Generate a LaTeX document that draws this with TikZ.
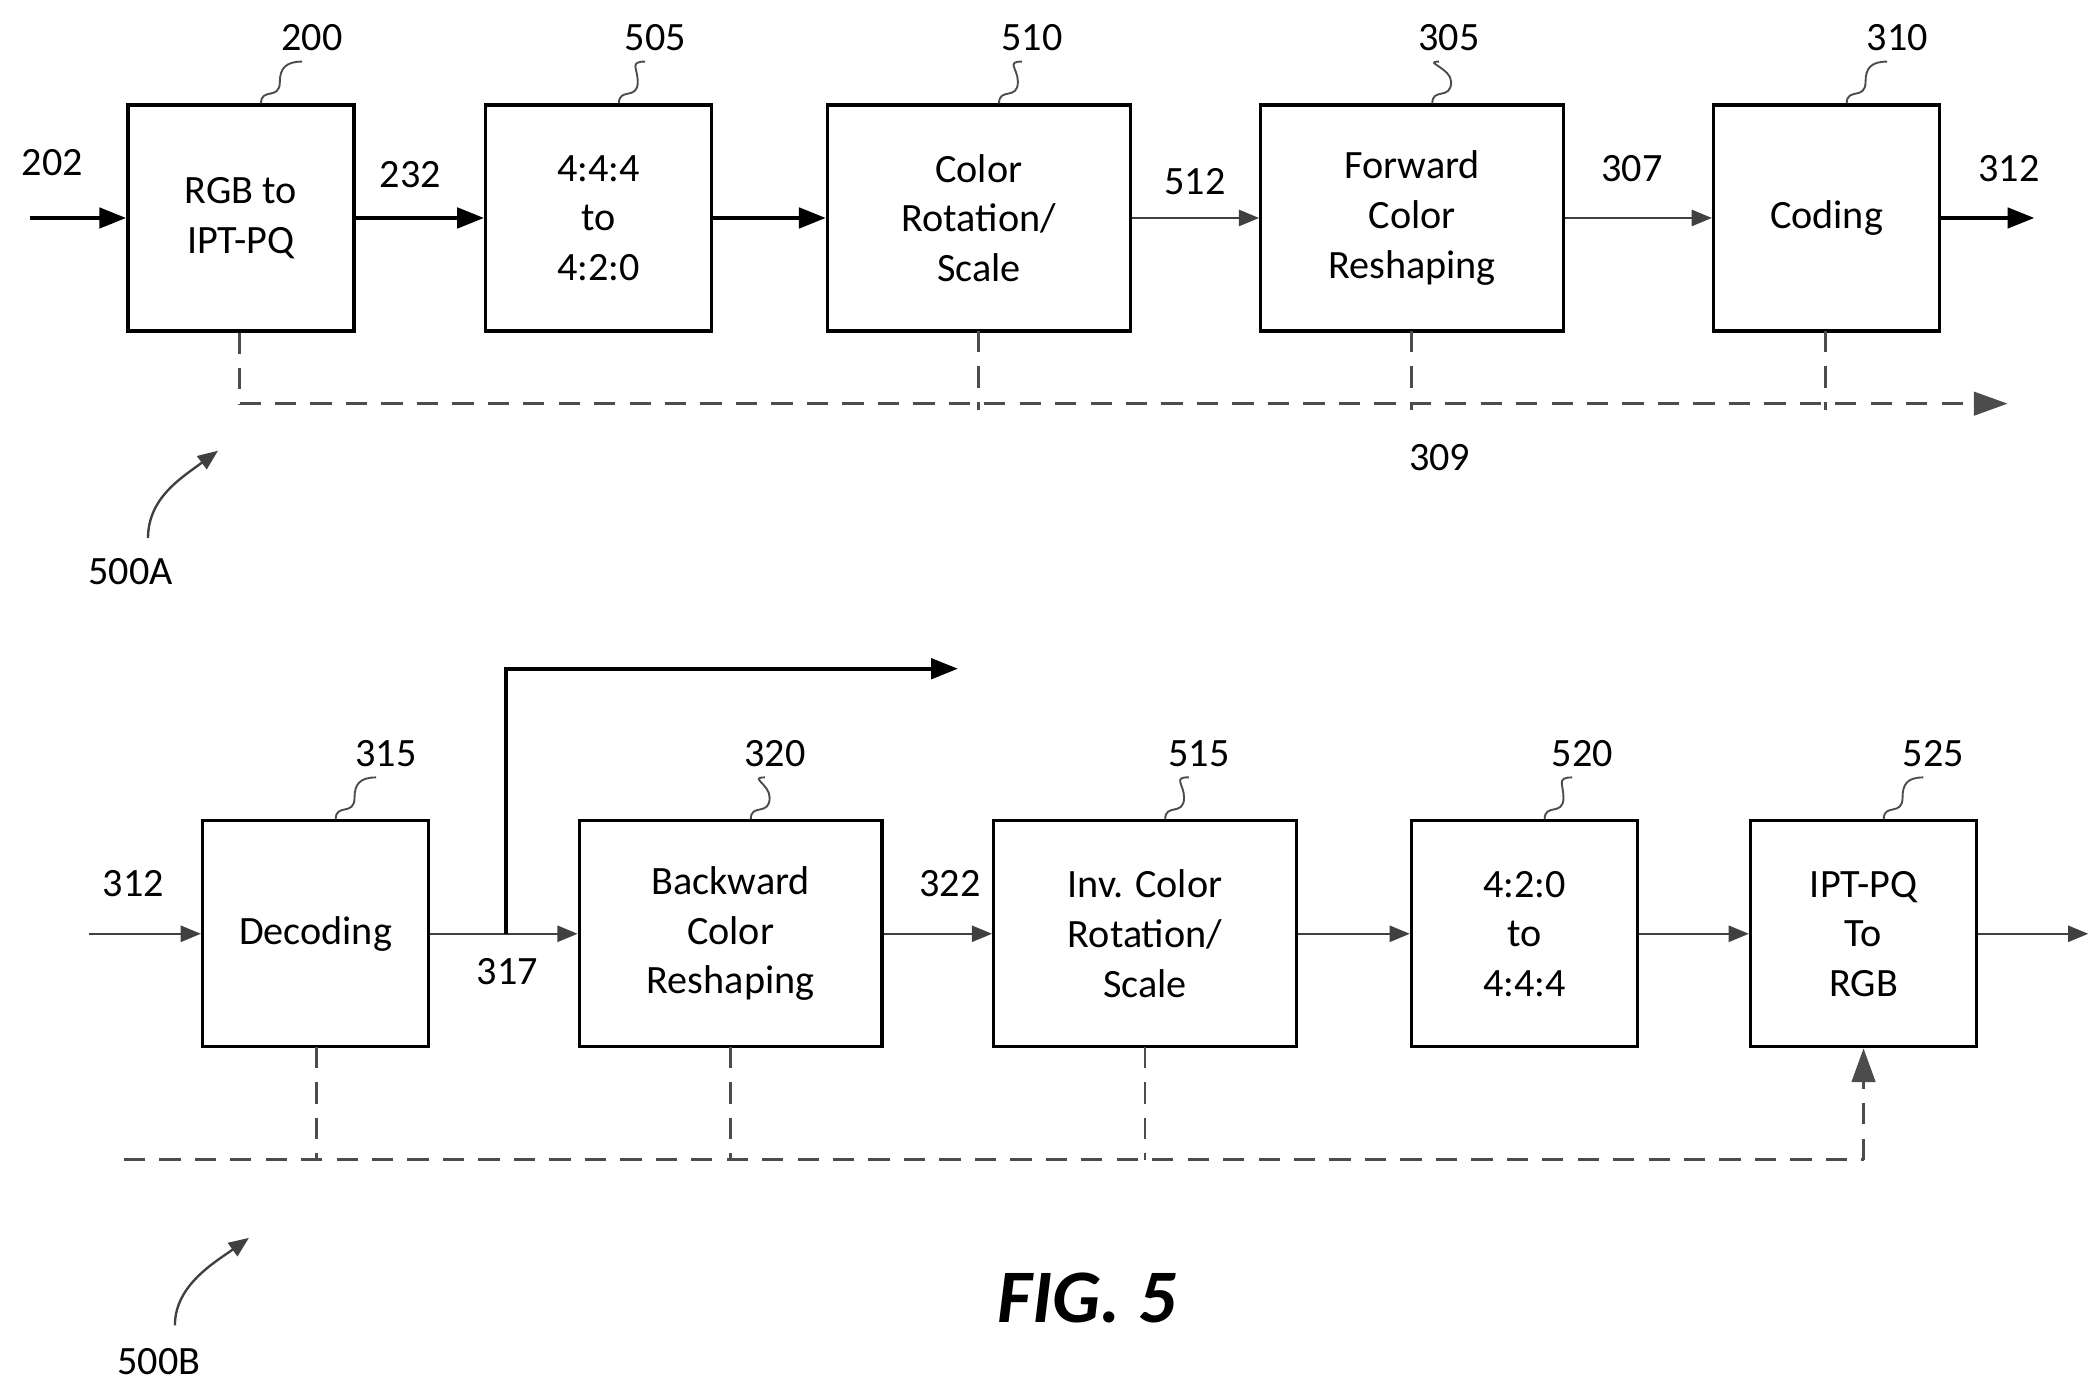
\documentclass[tikz,border=0pt]{standalone}
\usepackage{fontspec}
\setmainfont{Carlito}
\usetikzlibrary{arrows.meta,positioning}
\begin{document}
\begin{tikzpicture}
[x=0.02cm, y=-0.02cm, font=\fontsize{17}{21}\selectfont, line width=1.4pt,
blk/.style={rectangle, draw, align=center, inner sep=0pt, minimum width=3.36cm, minimum height=3.36cm},
wblk/.style={blk, minimum width=4.5cm},
thick arr/.style={-{Triangle[length=4mm,width=3mm]}, line width=1.8pt},
thin arr/.style={-{Triangle[length=3mm,width=2.4mm]}, line width=0.9pt, draw=black!75},
meta/.style={dash pattern=on 9pt off 6pt, line width=1.2pt, draw=black!70},
meta arr/.style={meta, -{Triangle[length=5mm,width=3.5mm]}},
lbl/.style={inner sep=1pt},
leader/.style={line width=0.8pt, draw=black!70}
]
\useasboundingbox (0,0) rectangle (1560,1034);

% top chain 500A
\node[blk]  (b200) at (179,162) {RGB to\\IPT-PQ};
\node[blk]  (b505) at (445,162) {4:4:4\\to\\4:2:0};
\node[wblk] (b510) at (727.5,162) {Color\\Rotation/\\Scale};
\node[wblk] (b305) at (1049.5,162) {Forward\\Color\\Reshaping};
\node[blk]  (b310) at (1357.5,162) {Coding};

\coordinate (in202) at (22,162);
\coordinate (out312) at (1512,162);
\draw[thick arr] (in202) -- (b200);
\draw[thick arr] (b200) -- (b505);
\draw[thick arr] (b505) -- (b510);
\draw[thin arr] (b510) -- (b305);
\draw[thin arr] (b305) -- (b310);
\draw[thick arr] (b310) -- (out312);

\node[lbl] (l202) at (39,121) {202};
\node[lbl] (l232) at (305,130) {232};
\node[lbl] (l512) at (888,135) {512};
\node[lbl] (l307) at (1213,125) {307};
\node[lbl] (l312a) at (1493,125) {312};

% metadata path 309
\coordinate (m0) at (178,300);
\coordinate (m1) at (1492,300);
\draw[meta arr] (m0) -- (m1);
\draw[meta] (b200.south -| m0) -- (m0);
\foreach \v in {727,1049,1357}
  \draw[meta] (\v,246) -- (\v,305);
\node[lbl] (l309) at (1070,340) {309};

% bottom chain 500B
\node[blk]  (b315) at (234.5,694) {Decoding};
\node[wblk] (b320) at (543,694) {Backward\\Color\\Reshaping};
\node[wblk] (b515) at (851,694) {Inv. Color\\Rotation/\\Scale};
\node[blk]  (b520) at (1133,694) {4:2:0\\to\\4:4:4};
\node[blk]  (b525) at (1385,694) {IPT-PQ\\To\\RGB};

\coordinate (in312) at (66,694);
\coordinate (br317) at (376,694);
\coordinate (up317) at (376,497);
\coordinate (ex317) at (712,497);
\coordinate (out525) at (1552,694);
\draw[thin arr] (in312) -- (b315);
\draw[thin arr] (b315) -- (b320);
\draw[thick arr] (br317) -- (up317) -- (ex317);
\draw[thin arr] (b320) -- (b515);
\draw[thin arr] (b515) -- (b520);
\draw[thin arr] (b520) -- (b525);
\draw[thin arr] (b525) -- (out525);

\node[lbl] (l312b) at (99,657) {312};
\node[lbl] (l317) at (377,722) {317};
\node[lbl] (l322) at (706,657) {322};

% metadata path into 525
\coordinate (n0) at (92,862);
\coordinate (n1) at (1385,862);
\draw[meta] (n0) -- (n1);
\draw[meta arr] (n1) -- (b525.south);
\foreach \v in {235,543,851}
  \draw[meta] (\v,778) -- (\v,862);

% reference numerals with leaders
\foreach \b/\t/\x/\y in {b200/200/232/28, b505/505/487/28, b510/510/767/28, b305/305/1077/28, b310/310/1410/28,
                         b315/315/287/560, b320/320/576/560, b515/515/891/560, b520/520/1176/560, b525/525/1437/560} {
  \node[lbl] (r\t) at (\x,\y) {\t};
  \draw[leader] ([xshift=0.3cm]\b.north) .. controls +(0,-12) and +(0,14) .. ++(14,-16)
     .. controls +(0,-10) and +(-12,0) .. ([xshift=-0.15cm,yshift=-0.1cm]r\t.south);
}

% figure labels
\node[lbl] (l500a) at (97,425) {500A};
\coordinate (a0) at (162,335);
\draw[thin arr, line width=1pt] (110,400) .. controls (110,370) and (135,355) .. (a0);
\node[lbl] (l500b) at (118,1012) {500B};
\coordinate (a1) at (185,920);
\draw[thin arr, line width=1pt] (130,985) .. controls (130,955) and (160,938) .. (a1);

\node[font=\fontsize{32}{36}\selectfont\bfseries\itshape] (fig) at (808,965) {FIG. 5};
\end{tikzpicture}
\end{document}
